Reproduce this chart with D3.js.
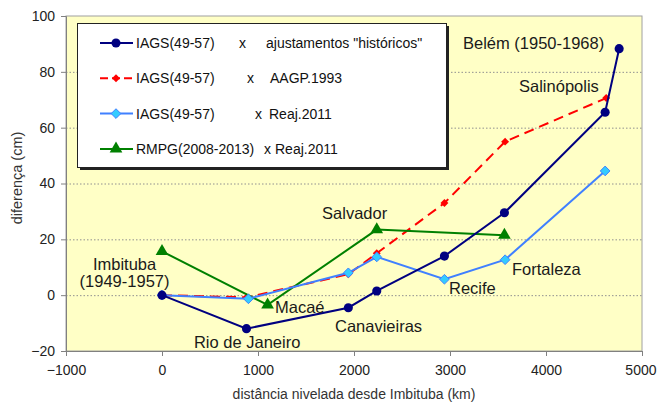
<!doctype html>
<html>
<head>
<meta charset="utf-8">
<style>
  body { margin: 0; background: #fff; }
  text { font-family: "Liberation Sans", Arial, sans-serif; }
</style>
<script src="https://d3js.org/d3.v7.min.js"></script>
</head>
<body>
<svg width="657" height="404"></svg>
<script>
// distance (km) of each station from Imbituba
var distHist = [0, 880, 1941, 2237, 2942, 3567, 4616, 4762];
var valHist  = [0, -12, -4.5, 1.5, 14, 29.5, 65.5, 88.3];

var distAagp = [0, 880, 1941, 2237, 2942, 3574, 4627];
var valAagp  = [0, -0.8, 7.5, 15, 33, 55, 70.6];

var distReaj = [0, 900, 1941, 2237, 2942, 3574, 4616];
var valReaj  = [0, -1.3, 8, 13.7, 5.7, 12.7, 44.5];

var distRmpg = [0, 1100, 2237, 3567];
var valRmpg  = [15.7, -3.5, 23.5, 21.5];

var legendLeft  = ["IAGS(49-57)", "IAGS(49-57)", "IAGS(49-57)", "RMPG(2008-2013)"];
var legendRight = ["ajustamentos \"históricos\"", "AAGP.1993", "Reaj.2011", "Reaj.2011"];

var xTicks = [-1000, 0, 1000, 2000, 3000, 4000, 5000];
var yTicks = [-20, 0, 20, 40, 60, 80, 100];

// station names, anchored in data units
var cityLabels = [
  {t: "Belém (1950-1968)", x: 3135, y: 90.3, a: "start"},
  {t: "Salinópolis", x: 3719, y: 74.9, a: "start"},
  {t: "Salvador", x: 1667, y: 29.5, a: "start"},
  {t: "Imbituba", x: -390, y: 11.0, a: "middle"},
  {t: "(1949-1957)", x: -390, y: 5.0, a: "middle"},
  {t: "Macaé", x: 1177, y: -4.2, a: "start"},
  {t: "Canavieiras", x: 1802, y: -11.1, a: "start"},
  {t: "Rio de Janeiro", x: 333, y: -16.7, a: "start"},
  {t: "Recife", x: 2990, y: 2.4, a: "start"},
  {t: "Fortaleza", x: 3646, y: 9.3, a: "start"}
];

var svg = d3.select("svg");
var x = d3.scaleLinear().domain([-1000, 5000]).range([66, 642]);
var y = d3.scaleLinear().domain([-20, 100]).range([351, 16]);

// plot background
svg.append("rect")
   .attr("x", 66).attr("y", 16)
   .attr("width", 576).attr("height", 335)
   .attr("fill", "#ffffc6")
   .attr("stroke", "#a0a0a0");

// dotted grid
svg.selectAll(".grid")
   .data(yTicks.filter(function(d) { return d > -20 && d < 100; }))
   .enter().append("line")
   .attr("x1", 66).attr("x2", 642)
   .attr("y1", function(d) { return y(d) + 0.5; })
   .attr("y2", function(d) { return y(d) + 0.5; })
   .attr("stroke", "#909090")
   .attr("stroke-dasharray", "1.5,2");

var xAxis = svg.append("g")
   .attr("transform", "translate(0,351)")
   .call(d3.axisBottom(x).tickValues(xTicks).tickFormat(d3.format("d")).tickSize(5).tickPadding(9));
var yAxis = svg.append("g")
   .attr("transform", "translate(66,0)")
   .call(d3.axisLeft(y).tickValues(yTicks).tickFormat(d3.format("d")).tickSize(5).tickPadding(6));
[xAxis, yAxis].forEach(function(a) {
  a.selectAll("path, line").attr("stroke", "#808080");
  a.selectAll("text").attr("font-size", 14).attr("fill", "#222")
   .style("font-family", "'Liberation Sans', Arial, sans-serif");
});
// last label sits against the right edge, as in the original
xAxis.selectAll(".tick text").filter(function(d) { return d === 5000; })
   .attr("text-anchor", "end").attr("dx", 14);

svg.append("text")
   .attr("x", x(2000)).attr("y", 399)
   .attr("text-anchor", "middle")
   .attr("font-size", 14).attr("fill", "#333")
   .text("distância nivelada desde Imbituba (km)");
svg.append("text")
   .attr("transform", "translate(22,178) rotate(-90)")
   .attr("text-anchor", "middle")
   .attr("font-size", 14.5).attr("fill", "#333")
   .text("diferença (cm)");

var line = d3.line()
   .x(function(d) { return x(d[0]); })
   .y(function(d) { return y(d[1]); });

function pts(xs, ys) { return xs.map(function(v, i) { return [v, ys[i]]; }); }

var series = [
  {p: pts(distAagp, valAagp), color: "#ff0000", dash: "10,6", mark: "diamond", fill: "#ff0000", stroke: "none", size: 40},
  {p: pts(distRmpg, valRmpg), color: "#008000", dash: null, mark: "triangle", fill: "#008000", stroke: "none", size: 70},
  {p: pts(distReaj, valReaj), color: "#4080ff", dash: null, mark: "diamond", fill: "#33ccff", stroke: "#4080ff", size: 60},
  {p: pts(distHist, valHist), color: "#000080", dash: null, mark: "circle", fill: "#000080", stroke: "none", size: 65}
];
var symbols = {circle: d3.symbolCircle, diamond: d3.symbolDiamond2, triangle: d3.symbolTriangle};

series.forEach(function(s) {
  svg.append("path")
     .datum(s.p)
     .attr("d", line)
     .attr("fill", "none")
     .attr("stroke", s.color)
     .attr("stroke-width", 2)
     .attr("stroke-dasharray", s.dash);
  svg.selectAll(null)
     .data(s.p)
     .enter().append("path")
     .attr("transform", function(d) { return "translate(" + x(d[0]) + "," + y(d[1]) + ")"; })
     .attr("d", d3.symbol().type(symbols[s.mark]).size(s.size))
     .attr("fill", s.fill)
     .attr("stroke", s.stroke);
});

svg.selectAll(".city")
   .data(cityLabels)
   .enter().append("text")
   .attr("x", function(d) { return x(d.x); })
   .attr("y", function(d) { return y(d.y); })
   .attr("dy", "0.35em")
   .attr("text-anchor", function(d) { return d.a; })
   .attr("font-size", 16.5)
   .attr("fill", "#1a1a1a")
   .text(function(d) { return d.t; });

// legend
var lg = svg.append("g");
lg.append("rect").attr("x", 80).attr("y", 26).attr("width", 369).attr("height", 144).attr("fill", "#222");
lg.append("rect").attr("x", 77.5).attr("y", 23.5).attr("width", 369).attr("height", 144)
  .attr("fill", "#fff").attr("stroke", "#222");
var legOrder = [3, 0, 2, 1];
var xMarkPos = [239, 247, 255, 264];
var rightPos = [266, 270, 269, 275];
legOrder.forEach(function(si, i) {
  var s = series[si], ly = 43 + i * 35.3;
  lg.append("line").attr("x1", 100).attr("x2", 133).attr("y1", ly).attr("y2", ly)
    .attr("stroke", s.color).attr("stroke-width", 2).attr("stroke-dasharray", s.dash ? "8,4" : null);
  lg.append("path").attr("transform", "translate(116," + ly + ")")
    .attr("d", d3.symbol().type(symbols[s.mark]).size(s.size))
    .attr("fill", s.fill).attr("stroke", s.stroke);
  lg.append("text").attr("x", 136).attr("y", ly).attr("dy", "0.35em").attr("font-size", 14).attr("fill", "#111").text(legendLeft[i]);
  lg.append("text").attr("x", xMarkPos[i]).attr("y", ly).attr("dy", "0.35em").attr("font-size", 14).attr("fill", "#111").text("x");
  lg.append("text").attr("x", rightPos[i]).attr("y", ly).attr("dy", "0.35em").attr("font-size", 14).attr("fill", "#111").text(legendRight[i]);
});
</script>
</body>
</html>
